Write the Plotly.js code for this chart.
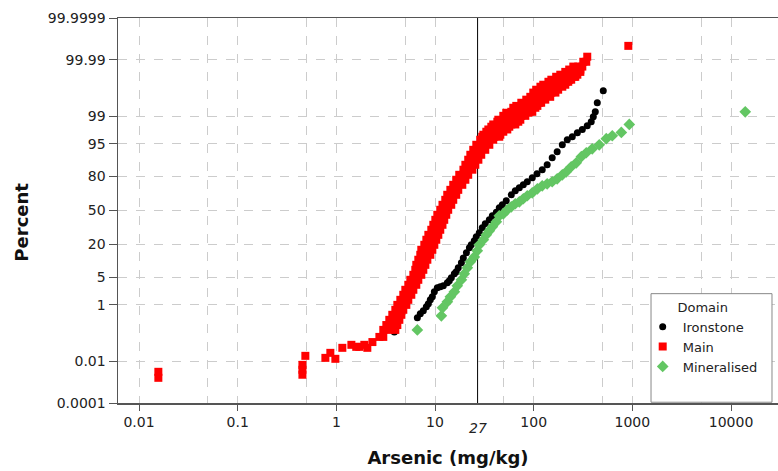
<!DOCTYPE html>
<html>
<head>
<meta charset="utf-8">
<script src="https://cdn.plot.ly/plotly-3.0.1.min.js"></script>
<style>html,body{margin:0;padding:0;background:#fff;}#chart{width:778px;height:471px;}</style>
</head>
<body>
<div id="chart"></div>
<script>
// ---------- data (values in mg/kg, cumulative percent) ----------
// Main: each percent level with the sample values plotted at that level
const mainPct = [0.0018,0.0034,0.0025,0.0042,0.0069,0.0166,0.0137,0.022,0.0125,0.0348,0.0455,0.038,0.058,0.090,
  0.160,0.234,0.347,0.50,0.71,0.99,1.37,1.87,2.51,3.33,4.35,5.61,7.15,8.99,11.2,13.7,16.6,19.85,23.5,27.4,
  31.7,36.2,40.9,45.8,50.7,55.6,60.4,65.1,69.5,73.7,77.6,81.1,84.3,87.05,89.5,91.56,93.3,94.77,95.97,
  96.57,96.93,97.41,97.73,98.07,98.32,98.58,98.75,99.03,99.21,99.26,99.44,99.51,99.61,99.69,99.75,99.82,
  99.857,99.888,99.905,99.926,99.938,99.952,99.960,99.969,99.975,99.981,99.988,99.9927,99.9976];
const mainVals = [[0.0157],[0.0157],[0.453],[0.453],[0.453],[0.485],[0.774],[0.869],[0.977],[1.15,2.06],[1.42,1.92],[1.59,1.71],[2.32],[2.73,2.99],
  [2.99,3.44,3.96],[3.21,3.69,4.15],[3.44,3.87,4.35],[3.69,4.15,4.56],[3.96,4.35,4.77],[4.15,4.56,5.12],[4.45,4.88,5.36],
  [4.77,5.24,5.75],[5.00,5.49,6.03],[5.36,5.89,6.46],[5.62,6.17,6.77],[6.03,6.62,7.26],[6.31,6.93,7.61],[6.46,7.09,7.98],
  [6.77,7.43,8.36],[7.09,7.98,8.96],[7.26,8.17,9.39],[7.79,8.76,9.84],[8.17,9.17,10.3],[8.56,9.61,10.8],
  [9.17,10.07,11.3],[9.61,10.55,11.9],[10.07,11.06,12.4],[10.55,11.59,13.0],[11.3,12.4,13.6],[11.9,13.0,14.6],
  [12.7,14.0,15.3],[13.3,14.6,16.4],[14.3,15.7,17.2],[15.3,16.8,18.9],[16.4,18.0,20.3],[17.6,19.4,21.7],
  [19.4,21.3,23.9],[20.3,22.8,25.6],[21.7,24.4,27.5],[22.8,25.6,29.4],[24.4,28.1,32.3],[26.2,30.1,35.5],
  [28.7,33.1,38.9],
  [30.1,34.7,39.9,44.8],[30.9,35.5,40.9,45.9],[33.1,38.1,43.8,49.2],[34.7,39.9,45.9,54.0],[37.2,42.8,49.2,56.6],
  [38.9,44.8,51.5,59.3,65.1],[42.8,49.2,56.6,65.1,69.8],[43.8,50.4,57.9,66.6,73.2],[49.2,56.6,65.1,74.9,82.2],
  [52.7,60.7,69.8,80.4,88.2],[59.3,68.2,78.5,90.2,96.8],[62.1,71.5,82.2,94.6,104],[66.6,76.7,88.2,101,109],
  [74.9,86.1,99.0,114,119],[84.1,96.8,111,131],[92.4,106,122,147],[99.0,114,131,151,166],
  [106,122,141,162,177],[117,134,154,177,195],[125,144,166,190,209],[141,162,186,214,224],
  [151,173,199,229,240],[169,195,224,258,264],[186,214,246,277],[209,240,277,297],[229,264,297],
  [252,283,311],[318,341],[349],[910]];

const ironX = [3.87,6.62,7.09,7.61,8.17,8.56,8.96,9.39,9.84,10.55,11.3,12.14,13.33,13.96,14.63,15.7,16.4,17.2,18.5,19.35,
  20.8,22.3,23.3,25.0,26.2,28.1,30.1,32.3,35.5,38.1,41.8,44.8,48.1,52.7,59.3,65.1,71.5,78.5,86.1,96.8,108,122,137,154,
  173,195,219,246,277,311,349,383,402,421,441,507];
const ironP = [0.136,0.401,0.535,0.662,0.87,1.06,1.37,1.65,2.23,2.81,2.98,3.15,3.71,4.13,4.83,5.89,6.50,7.85,9.82,12.1,
  14.8,17.85,19.85,22.7,25.8,29.1,33.5,37.1,40.9,44.8,48.3,52.7,55.6,59.5,65.1,68.7,71.3,73.7,76.1,79.0,81.8,84.3,87.05,
  90.35,92.65,94.77,95.97,96.57,97.25,97.73,98.18,98.58,98.97,99.26,99.61,99.845];

const minX = [6.62,11.59,11.9,13.33,14.3,15.7,16.8,18.5,19.8,21.25,22.8,25.0,26.8,28.1,30.9,33.1,35.5,38.1,41.8,44.8,
  49.2,54.0,59.3,65.1,71.5,78.5,86.1,96.8,109,122,137,154,173,195,214,240,270,304,341,392,462,544,626,773,931,13930];
const minP = [0.160,0.465,0.81,1.21,1.65,2.23,3.15,4.35,5.89,7.85,10.26,12.6,15.96,19.85,23.5,27.4,30.8,34.3,39.0,44.8,
  46.7,50.7,53.6,56.6,58.5,61.4,64.2,66.9,70.4,72.9,74.5,76.1,78.3,81.1,83.0,86.0,88.06,90.8,92.3,93.6,94.77,96.2,
  96.75,97.3,98.32,99.26];

const yTickPct = [0.0001,0.01,1,5,20,50,80,95,99,99.99,99.9999];
const yTickText = ['0.0001','0.01','1','5','20','50','80','95','99','99.99','99.9999'];
const xTickVals = [0.01,0.1,1,10,100,1000,10000];
const xTickText = ['0.01','0.1','1','10','100','1000','10000'];
const xHalfDecades = [0.05,0.5,5,50,500,5000];
const threshold = 27;

// ---------- probability (normal quantile) scale ----------
function normInv(p){
  const a=[-3.969683028665376e+01,2.209460984245205e+02,-2.759285104469687e+02,1.383577518672690e+02,-3.066479806614716e+01,2.506628277459239e+00];
  const b=[-5.447609879822406e+01,1.615858368580409e+02,-1.556989798598866e+02,6.680131188771972e+01,-1.328068155288572e+01];
  const c=[-7.784894002430293e-03,-3.223964580411365e-01,-2.400758277161838e+00,-2.549732539343734e+00,4.374664141464968e+00,2.938163982698783e+00];
  const d=[7.784695709041462e-03,3.224671290700398e-01,2.445134137142996e+00,3.754408661907416e+00];
  const pl=0.02425, ph=1-pl; let q,r;
  if(p<pl){q=Math.sqrt(-2*Math.log(p));return (((((c[0]*q+c[1])*q+c[2])*q+c[3])*q+c[4])*q+c[5])/((((d[0]*q+d[1])*q+d[2])*q+d[3])*q+1);}
  if(p<=ph){q=p-0.5;r=q*q;return (((((a[0]*r+a[1])*r+a[2])*r+a[3])*r+a[4])*r+a[5])*q/(((((b[0]*r+b[1])*r+b[2])*r+b[3])*r+b[4])*r+1);}
  q=Math.sqrt(-2*Math.log(1-p));return -(((((c[0]*q+c[1])*q+c[2])*q+c[3])*q+c[4])*q+c[5])/((((d[0]*q+d[1])*q+d[2])*q+d[3])*q+1);
}
const z = pct => normInv(pct/100);

const mainX = [], mainY = [];
mainPct.forEach((p,i)=>mainVals[i].forEach(v=>{mainX.push(v); mainY.push(z(p));}));

const traces = [
  {type:'scatter', mode:'markers', name:'Ironstone', x:ironX, y:ironP.map(z),
   marker:{symbol:'circle', size:7, color:'#000000'}, hoverinfo:'x+name'},
  {type:'scatter', mode:'markers', name:'Main', x:mainX, y:mainY,
   marker:{symbol:'square', size:8, color:'#ff0000'}, hoverinfo:'x+name'},
  {type:'scatter', mode:'markers', name:'Mineralised', x:minX, y:minP.map(z),
   marker:{symbol:'diamond', size:9, color:'#63c663'}, hoverinfo:'x+name'}
];

const gridC = '#cccccc', axC = '#555555';
const layout = {
  width:778, height:471,
  margin:{l:118, r:0, t:18, b:68},
  paper_bgcolor:'#ffffff', plot_bgcolor:'#ffffff',
  font:{family:'DejaVu Sans, Verdana, sans-serif', size:14, color:'#222222'},
  showlegend:true,
  xaxis:{
    type:'log', range:[-2.213, 4.476], tickmode:'array', tickvals:xTickVals, ticktext:xTickText,
    ticks:'outside', ticklen:6, tickcolor:axC, tickwidth:1,
    showline:true, linecolor:axC, linewidth:1.5, mirror:true,
    showgrid:true, gridcolor:gridC, griddash:'dash', gridwidth:1, zeroline:false,
    minor:{tickvals:xHalfDecades, showgrid:true, gridcolor:gridC, griddash:'dash', gridwidth:1, ticks:''},
    title:{text:'<b>Arsenic (mg/kg)</b>', font:{size:18, color:'#111'}, standoff:22}
  },
  yaxis:{
    range:[z(0.0001), z(99.9999)], tickmode:'array', tickvals:yTickPct.map(z), ticktext:yTickText,
    ticks:'outside', ticklen:8, tickcolor:axC, tickwidth:1,
    showline:true, linecolor:axC, linewidth:1.5, mirror:false,
    showgrid:true, gridcolor:gridC, griddash:'dash', gridwidth:1, zeroline:false
  },
  legend:{
    x:0.795, y:0.281, xanchor:'left', yanchor:'top',
    bgcolor:'rgba(0,0,0,0)', borderwidth:0,
    font:{size:13, color:'#222'}, itemwidth:30, tracegroupgap:0,
    title:{text:'Domain', side:'top center', font:{size:13, color:'#222'}}
  },
  shapes:[
    {type:'line', xref:'x', yref:'paper', x0:threshold, x1:threshold, y0:0, y1:1,
     line:{color:'#000000', width:1}, layer:'between'},
    {type:'rect', xref:'paper', yref:'paper', x0:0.8076, x1:0.9909, y0:0.002, y1:0.284,
     line:{color:'#888888', width:1}, fillcolor:'#ffffff', layer:'above'}
  ],
  annotations:[
    {xref:'x', yref:'paper', x:Math.log10(threshold), y:-0.066, yanchor:'middle',
     text:'<i>' + threshold + '</i>', showarrow:false, font:{size:14, color:'#222'}},
    {xref:'paper', yref:'paper', x:-0.1455, y:0.471, xanchor:'center', yanchor:'middle', textangle:-90,
     text:'<b>Percent</b>', showarrow:false, font:{size:18, color:'#111'}}
  ]
};

Plotly.newPlot('chart', traces, layout, {displayModeBar:false, staticPlot:true});
</script>
</body>
</html>
